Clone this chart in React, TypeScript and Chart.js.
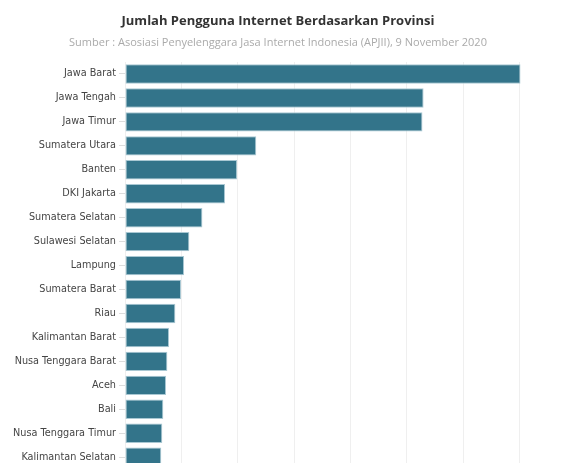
import React, { useEffect, useRef } from "react";
import { Chart, registerables } from "chart.js";

Chart.register(...registerables);

const provinces = [
  "Jawa Barat",
  "Jawa Tengah",
  "Jawa Timur",
  "Sumatera Utara",
  "Banten",
  "DKI Jakarta",
  "Sumatera Selatan",
  "Sulawesi Selatan",
  "Lampung",
  "Sumatera Barat",
  "Riau",
  "Kalimantan Barat",
  "Nusa Tenggara Barat",
  "Aceh",
  "Bali",
  "Nusa Tenggara Timur",
  "Kalimantan Selatan",
];

const users = [
  35100000, 26500000, 26400000, 11650000, 9950000, 8880000, 6870000, 5710000,
  5240000, 4970000, 4470000, 3910000, 3760000, 3640000, 3400000, 3310000,
  3220000,
];

const gridSteps = [0, 5000000, 10000000, 15000000, 20000000, 25000000, 30000000, 35000000];

const titleText = "Jumlah Pengguna Internet Berdasarkan Provinsi";
const subtitleText =
  "Sumber : Asosiasi Penyelenggara Jasa Internet Indonesia (APJII), 9 November 2020";

export default function App() {
  const canvasRef = useRef<HTMLCanvasElement | null>(null);

  useEffect(() => {
    if (!canvasRef.current) return;
    const chart = new Chart(canvasRef.current, {
      type: "bar",
      data: {
        labels: provinces,
        datasets: [
          {
            data: users,
            backgroundColor: "#33748a",
            borderColor: "#a9c8d3",
            borderWidth: 1,
            borderSkipped: false,
            categoryPercentage: 0.81,
            barPercentage: 1,
          },
        ],
      },
      options: {
        indexAxis: "y",
        animation: false,
        responsive: false,
        maintainAspectRatio: false,
        layout: { padding: { left: 10, right: 43, top: 62, bottom: 0 } },
        plugins: {
          legend: { display: false },
          tooltip: { enabled: false },
        },
        scales: {
          x: {
            min: 0,
            max: 35500000,
            afterBuildTicks: (scale: any) => {
              scale.ticks = gridSteps.map((v) => ({ value: v }));
            },
            ticks: { display: false, autoSkip: false },
            grid: { color: "#efefef", drawTicks: false },
            border: { display: false },
          },
          y: {
            afterFit: (scale: any) => {
              scale.width = 115;
            },
            ticks: {
              color: "#444",
              padding: 3,
              font: { family: "DejaVu Sans", size: 9.7 },
            },
            grid: {
              offset: false,
              drawOnChartArea: false,
              drawTicks: true,
              tickLength: 6,
              color: "#dddddd",
            },
            border: { display: false },
          },
        },
      },
    });
    return () => chart.destroy();
  }, []);

  return (
    <div
      style={{
        position: "absolute",
        left: 0,
        top: 0,
        width: 568,
        height: 463,
        overflow: "hidden",
        background: "#fff",
      }}
    >
      <canvas
        ref={canvasRef}
        width={568}
        height={478}
        style={{ position: "absolute", left: 0, top: 0, width: 568, height: 478 }}
      />
      <div
        style={{
          position: "absolute",
          left: 0,
          width: 556,
          top: 11,
          textAlign: "center",
          fontFamily: "'Open Sans', sans-serif",
          fontWeight: 700,
          fontSize: 13,
          color: "#333",
          lineHeight: "18px",
        }}
      >
        {titleText}
      </div>
      <div
        style={{
          position: "absolute",
          left: 0,
          width: 556,
          top: 34,
          textAlign: "center",
          fontFamily: "'Open Sans', sans-serif",
          fontSize: 11,
          color: "#aaa",
          lineHeight: "16px",
        }}
      >
        {subtitleText}
      </div>
    </div>
  );
}
